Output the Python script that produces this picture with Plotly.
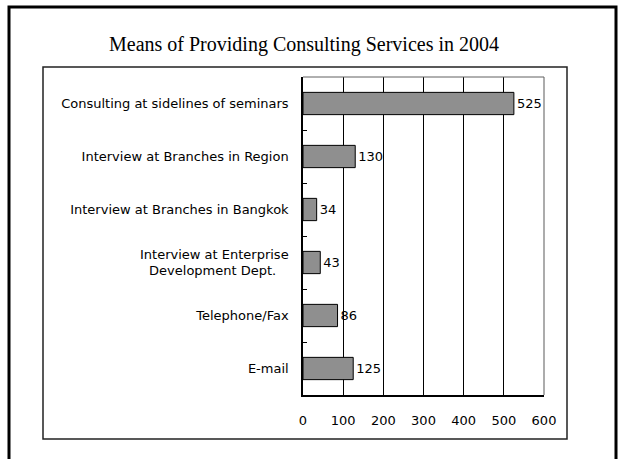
import plotly.graph_objects as go

categories = [
    "Consulting at sidelines of seminars",
    "Interview at Branches in Region",
    "Interview at Branches in Bangkok",
    "Interview at Enterprise<br>Development Dept.&nbsp;&nbsp;&nbsp;",
    "Telephone/Fax",
    "E-mail",
]
values = [525, 130, 34, 43, 86, 125]
x_ticks = [0, 100, 200, 300, 400, 500, 600]
title_text = "Means of Providing Consulting Services in 2004"

W, H = 619, 459
L, R, T, B = 303, 544, 77, 395  # plot area in pixels

def px(x):
    return (x - L) / (R - L)

def py(y):
    return (B - y) / (B - T)

fig = go.Figure()
fig.add_trace(go.Bar(
    x=values, y=categories, orientation="h",
    marker=dict(color="#8f8f8f", line=dict(color="#000000", width=1)),
    width=0.42,
    text=[str(v) for v in values], textposition="outside",
    textfont=dict(family="DejaVu Sans", size=13, color="#000000"),
    cliponaxis=False,
))

shapes = [
    # outer frame (open at bottom)
    dict(type="rect", xref="paper", yref="paper", x0=px(9), x1=px(616), y0=py(475), y1=py(7),
         line=dict(color="#000000", width=3), layer="below"),
    # inner box
    dict(type="rect", xref="paper", yref="paper", x0=px(43), x1=px(567), y0=py(439), y1=py(67),
         line=dict(color="#222222", width=1.5), layer="below"),
    # right border grey
    dict(type="line", xref="paper", yref="paper", x0=1, x1=1, y0=0, y1=1,
         line=dict(color="#909090", width=1.5), layer="above"),
    # top border grey
    dict(type="line", xref="paper", yref="paper", x0=0, x1=1, y0=1, y1=1,
         line=dict(color="#606060", width=1), layer="above"),
]

fig.update_layout(
    width=W, height=H,
    margin=dict(l=L, r=W - R, t=T, b=H - B, pad=0),
    paper_bgcolor="#ffffff", plot_bgcolor="#ffffff",
    showlegend=False,
    shapes=shapes,
    title=dict(text=title_text, x=304 / W, xanchor="center", y=1 - 44 / H, yanchor="middle",
               xref="container", yref="container",
               font=dict(family="Liberation Serif", size=20, color="#000000")),
    xaxis=dict(range=[0, 600], tickvals=x_ticks, ticktext=[str(t) for t in x_ticks],
               showgrid=True, gridcolor="#000000", gridwidth=1,
               showline=True, linecolor="#000000", linewidth=1.5,
               ticks="", ticklabelstandoff=13, zeroline=False,
               tickfont=dict(family="DejaVu Sans", size=13, color="#000000")),
    yaxis=dict(categoryorder="array", categoryarray=categories, autorange="reversed",
               showline=True, linecolor="#000000", linewidth=1.5,
               ticks="inside", ticklen=4, tickcolor="#000000", tickwidth=1,
               tickson="boundaries", ticklabelstandoff=10, showgrid=False,
               tickfont=dict(family="DejaVu Sans", size=13, color="#000000")),
    bargap=0.58,
)

fig.write_html("out.html")
